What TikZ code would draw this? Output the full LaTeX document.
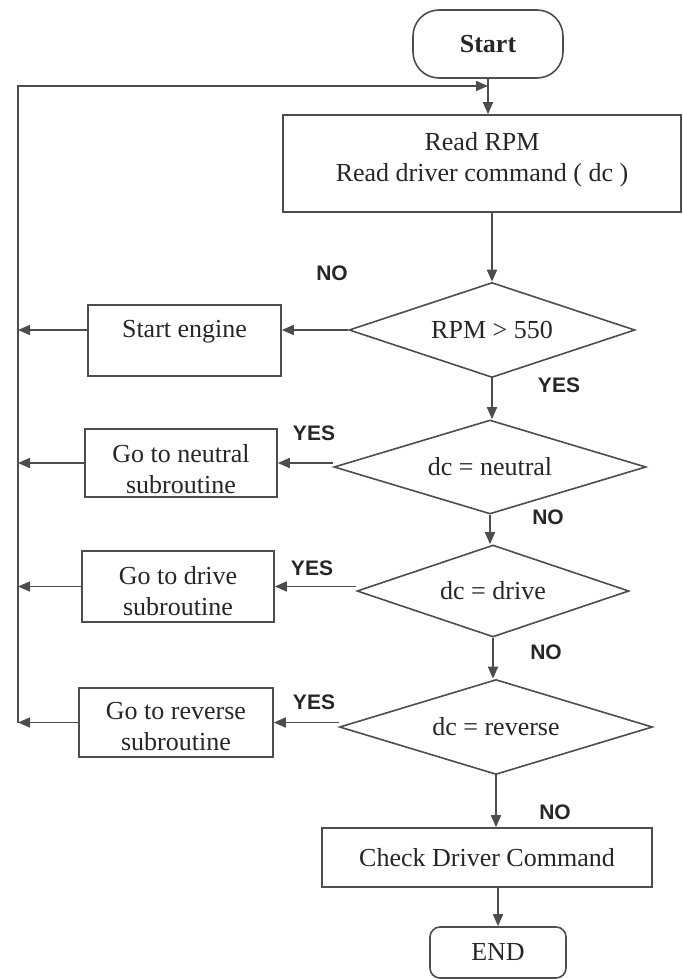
\documentclass[tikz,border=0pt]{standalone}
\usepackage{fontspec}
\setmainfont{Liberation Serif}
\newfontfamily\labelfont{Liberation Sans}
\usepackage{xcolor}
\usepackage{tikz}
\usetikzlibrary{arrows.meta,shapes.geometric}
\definecolor{inkline}{HTML}{4D4D4D}
\definecolor{inktext}{HTML}{262626}
\tikzset{every node/.append style={font=\fontsize{13}{15.5}\selectfont,text=inktext}}

\begin{document}
\begin{tikzpicture}[x=.5pt,y=-.5pt,>={Triangle[length=6pt,width=5pt]},line width=.8pt,
  box/.style={draw=inkline,rectangle,inner sep=0pt,align=center},
  dec/.style={draw=inkline,diamond,aspect=3,inner sep=0pt},
  yn/.style={font=\labelfont\bfseries\fontsize{10.5}{12}\selectfont}]
\useasboundingbox (0,0) rectangle (683,979);
\node[box,rounded corners=13pt,minimum width=75pt,minimum height=34pt,font=\bfseries\fontsize{13}{15.5}\selectfont] (start) at (488,44) {Start};
\node[box,minimum width=199pt,text height=33pt,text depth=15.5pt] (read) at (482,163.5) {Read RPM\\Read driver command ( dc )};
\node[dec,minimum width=143pt,minimum height=47.5pt] (d1) at (492,330) {RPM > 550};
\node[dec,minimum width=156pt,minimum height=47pt] (d2) at (490,467) {dc = neutral};
\node[dec,minimum width=136pt,minimum height=46pt] (d3) at (493,591) {dc = drive};
\node[dec,minimum width=156.5pt,minimum height=47.5pt] (d4) at (496,727) {dc = reverse};
\node[box,minimum width=96.5pt,text height=16pt,text depth=19.5pt] (eng) at (184.5,340.5) {Start engine};
\node[box,minimum width=96pt,text height=32pt,text depth=2pt] (neu) at (181,463) {Go to neutral\\subroutine};
\node[box,minimum width=96pt,text height=32pt,text depth=3.5pt] (drv) at (178,586.5) {Go to drive\\subroutine};
\node[box,minimum width=97pt,text height=31pt,text depth=3.5pt] (rev) at (176,722.5) {Go to reverse\\subroutine};
\node[box,minimum width=165pt,minimum height=29.5pt] (chk) at (487,857.5) {Check Driver Command};
\node[box,rounded corners=5pt,minimum width=68pt,minimum height=25.5pt] (end) at (498,952.5) {END};
\node[yn] (no1) at (332,273) {NO};
\node[yn] (yes1) at (559,385) {YES};
\node[yn] (yes2) at (314,433) {YES};
\node[yn] (no2) at (548,517) {NO};
\node[yn] (yes3) at (312,568) {YES};
\node[yn] (no3) at (546,652) {NO};
\node[yn] (yes4) at (314,702) {YES};
\node[yn] (no4) at (555,812) {NO};
\coordinate (fl) at (18,0); \coordinate (ftop) at (488,86);
\draw[->,inkline] (start.south) -- (start.south |- read.north);
\draw[->,inkline] (d1.north |- read.south) -- (d1.north);
\draw[->,inkline] (d1.south) -- (d1.south |- d2.north);
\draw[->,inkline] (d2.south) -- (d2.south |- d3.north);
\draw[->,inkline] (d3.south) -- (d3.south |- d4.north);
\draw[->,inkline] (d4.south) -- (d4.south |- chk.north);
\draw[->,inkline] (end.north |- chk.south) -- (end.north);
\draw[->,inkline] (d1.west) -- (d1.west -| eng.east);
\draw[->,inkline] (d2.west |- neu) -- (neu.east);
\draw[->,inkline] (d3.west |- drv) -- (drv.east);
\draw[->,inkline] (d4.west |- rev) -- (rev.east);
\draw[->,inkline] (eng.west |- d1) -- (fl |- d1);
\draw[->,inkline] (neu.west) -- (fl |- neu);
\draw[->,inkline] (drv.west) -- (fl |- drv);
\draw[->,inkline] (rev.west) -- (fl |- rev);
\draw[->,inkline] (fl |- rev) |- (ftop);
\end{tikzpicture}
\end{document}
